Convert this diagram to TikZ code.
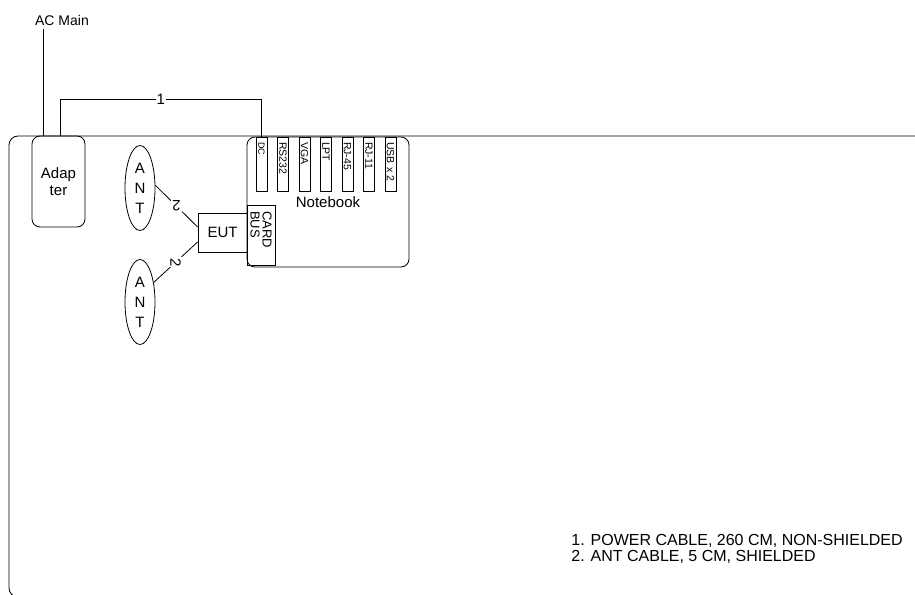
\documentclass[tikz,border=0pt]{standalone}
\usepackage{fontspec}
\setmainfont{Liberation Sans}
\usetikzlibrary{shapes.geometric}

\begin{document}
\begin{tikzpicture}[x=1pt,y=-1pt,line width=0.8pt,
  box/.style={draw, inner sep=0pt, align=center, font=\fontsize{15}{17}\selectfont},
  port/.style={draw, rotate=-90, minimum width=54pt, minimum height=11pt, inner ysep=0pt, inner xsep=5pt, text width=44pt, align=left, font=\fontsize{10.5}{12}\selectfont},
  ant/.style={draw, ellipse, minimum width=30pt, minimum height=85pt, inner sep=0pt, align=center, font=\fontsize{15}{20}\selectfont},
  cablelabel/.style={fill=white, inner sep=1pt, font=\fontsize{15}{16}\selectfont}]
\useasboundingbox (0,0) rectangle (915,594);
\clip (0,0) rectangle (915,594);

% Table frame
\draw[rounded corners=9pt] (9,136) rectangle (930,597);

% Power side
\node (ac) at (62,20) [font=\fontsize{14}{16}\selectfont] {AC Main};
\node[box, rounded corners=8pt, minimum width=53pt, minimum height=91pt] (adapter) at (58.5,181.5) {Adap\\ter};
\draw ([xshift=-15.5pt]adapter.north) -- ([xshift=-15.5pt]adapter.north |- ac.south);

% Notebook with ports
\node[box, rounded corners=8pt, minimum width=162pt, minimum height=130pt] (notebook) at (328,202) {Notebook};
\node[port, font=\fontsize{9}{10}\selectfont] (dc) at (261.5,164) {DC};
\node[port] (rs) at (283,164) {RS232};
\node[port] (vga) at (304.5,164) {VGA};
\node[port] (lpt) at (326,164) {LPT};
\node[port] (rjf) at (347.5,164) {RJ-45};
\node[port] (rje) at (369,164) {RJ-11};
\node[port] (usb) at (390.5,164) {USB x 2};
\node[draw, rotate=-90, minimum width=60pt, minimum height=28pt, inner ysep=0pt, inner xsep=6pt, text width=48pt, align=left, font=\fontsize{13}{12}\selectfont] (cardbus) at (261,235) {CARD\\BUS};

% EUT and antennas
\node[box, minimum width=49pt, minimum height=39pt] (eut) at (222.5,232.5) {EUT};
\node[ant] (antA) at (140,188) {A\\N\\T};
\node[ant] (antB) at (140,302) {A\\N\\T};

% Cables
\draw ([xshift=1.5pt]adapter.north) -- ++(0,-36) -| node[cablelabel, pos=0.25] {1} (dc.west);
\draw (antA.10) -- node[cablelabel, rotate=180] {2} ([yshift=5.5pt]eut.west);
\draw (antB.55) -- node[cablelabel, rotate=-90] {2} ([yshift=-9.5pt]eut.west);

% Legend
\node[anchor=west, align=left, inner sep=0pt, font=\fontsize{16}{16}\selectfont] (legend) at (571,549) {1. POWER CABLE, 260 CM, NON-SHIELDED\\2. ANT CABLE, 5 CM, SHIELDED};
\end{tikzpicture}
\end{document}
